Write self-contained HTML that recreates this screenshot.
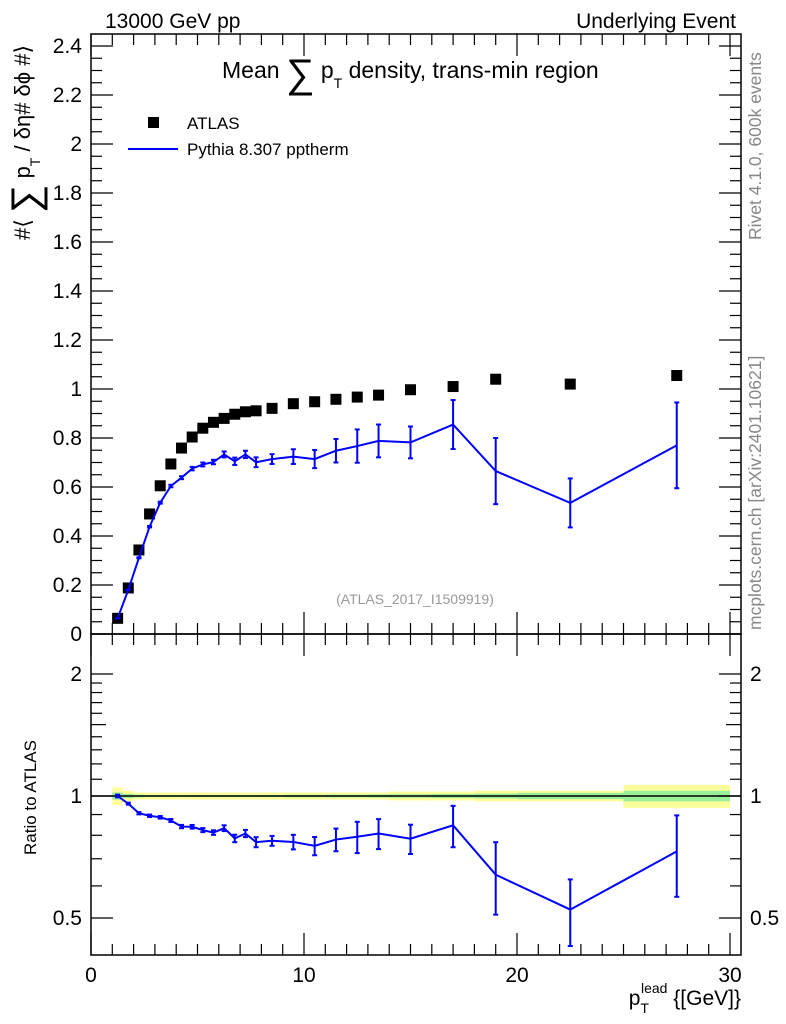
<!DOCTYPE html>
<html><head><meta charset="utf-8"><style>
body{margin:0;background:#fff;}
svg{display:block;font-family:"Liberation Sans",sans-serif;}
</style></head><body>
<svg id="c" width="786" height="1024" viewBox="0 0 786 1024">
<g id="bands"></g>
<g id="marks"></g>
<g id="axes"></g>
<rect x="91" y="34" width="650" height="600" fill="none" stroke="#000" stroke-width="1.5"/>
<rect x="91" y="634" width="650" height="321" fill="none" stroke="#000" stroke-width="1.5"/>
<text x="105" y="28" font-size="21">13000 GeV pp</text>
<text x="736" y="28" font-size="21" text-anchor="end">Underlying Event</text>
<text x="222" y="78" font-size="23">Mean <tspan font-size="40" dy="9">∑</tspan><tspan dy="-9"> p</tspan><tspan font-size="14" dy="10">T</tspan><tspan dy="-10"> density, trans-min region</tspan></text>
<text x="415" y="604" font-size="14" fill="#999" text-anchor="middle">(ATLAS_2017_I1509919)</text>
<text transform="translate(761,240) rotate(-90)" font-size="17.5" fill="#888">Rivet 4.1.0,  600k events</text>
<text transform="translate(761,630) rotate(-90)" font-size="17.5" fill="#888">mcplots.cern.ch [arXiv:2401.10621]</text>
<text transform="translate(30,240) rotate(-90)" font-size="22">#⟨ <tspan font-size="40" dy="9">∑</tspan><tspan dy="-9"> p</tspan><tspan font-size="14" dy="10">T</tspan><tspan dy="-10">  / δη# δϕ #⟩</tspan></text>
<text transform="translate(36,855) rotate(-90)" font-size="17">Ratio to ATLAS</text>
<text x="741" y="1005" font-size="21" text-anchor="end">p<tspan font-size="14" dy="8">T</tspan><tspan font-size="14" dx="-8" dy="-20">lead</tspan><tspan dy="12"> {[GeV]}</tspan></text>
<g>
<rect x="148" y="117" width="11" height="11" fill="#000"/>
<text x="187" y="129" font-size="17">ATLAS</text>
<line x1="128" y1="149" x2="178" y2="149" stroke="#00f" stroke-width="2"/>
<text x="187" y="155" font-size="17">Pythia 8.307 pptherm</text>
</g>
</svg>
<script>
const xCenters=[1.25,1.75,2.25,2.75,3.25,3.75,4.25,4.75,5.25,5.75,6.25,6.75,7.25,7.75,8.5,9.5,10.5,11.5,12.5,13.5,15,17,19,22.5,27.5];
const xLow=[1,1.5,2,2.5,3,3.5,4,4.5,5,5.5,6,6.5,7,7.5,8,9,10,11,12,13,14,16,18,20,25];
const xHigh=[1.5,2,2.5,3,3.5,4,4.5,5,5.5,6,6.5,7,7.5,8,9,10,11,12,13,14,16,18,20,25,30];
const atlasVals=[0.064,0.188,0.343,0.49,0.605,0.694,0.759,0.804,0.84,0.864,0.88,0.897,0.907,0.911,0.921,0.94,0.948,0.958,0.967,0.975,0.997,1.01,1.04,1.02,1.055];
const atlasStatRel=[0.02,0.012,0.008,0.006,0.006,0.006,0.006,0.006,0.006,0.006,0.006,0.006,0.006,0.006,0.006,0.007,0.007,0.008,0.008,0.009,0.01,0.012,0.014,0.018,0.03];
const atlasTotRel=[0.05,0.03,0.02,0.02,0.02,0.02,0.02,0.02,0.02,0.02,0.02,0.02,0.02,0.02,0.02,0.02,0.02,0.02,0.02,0.02,0.025,0.025,0.03,0.03,0.065];
const pythiaVals=[0.064,0.18,0.311,0.438,0.536,0.604,0.638,0.675,0.692,0.702,0.733,0.705,0.733,0.701,0.714,0.724,0.714,0.748,0.767,0.788,0.782,0.855,0.665,0.535,0.77];
const pythiaErr=[0.0005,0.001,0.002,0.003,0.004,0.005,0.006,0.007,0.008,0.009,0.012,0.015,0.015,0.02,0.02,0.03,0.037,0.048,0.068,0.067,0.065,0.1,0.135,0.1,0.175];
const mainYTicks=[0,0.2,0.4,0.6,0.8,1,1.2,1.4,1.6,1.8,2,2.2,2.4];
const ratioYTicks=[0.5,1,2];
const xTicks=[0,10,20,30];

const NS="http://www.w3.org/2000/svg";
const X=v=>91+v*21.3;
const Y=v=>634-v*245;
const R=r=>796-(122/Math.LN2)*Math.log(r);
const gB=document.getElementById('bands'),gM=document.getElementById('marks'),gA=document.getElementById('axes');
function mk(tag,at,parent){const e=document.createElementNS(NS,tag);for(const k in at)e.setAttribute(k,at[k]);parent.appendChild(e);return e;}

for(let i=0;i<xCenters.length;i++){
  const t=atlasTotRel[i],s=atlasStatRel[i];
  const b1=mk('rect',{x:X(xLow[i]),y:R(1+t),width:X(xHigh[i])-X(xLow[i]),height:R(1-t)-R(1+t),fill:'#ffff99'},gB);
  
  
  const b2=mk('rect',{x:X(xLow[i]),y:R(1+s),width:X(xHigh[i])-X(xLow[i]),height:R(1-s)-R(1+s),fill:'#99ee99'},gB);
  
  
}
const rl=mk('line',{x1:91,x2:741,y1:R(1),y2:R(1),stroke:'#000','stroke-width':1.5},gB);



atlasVals.forEach((v,i)=>{
  const r=mk('rect',{x:X(xCenters[i])-5.5,y:Y(v)-5.5,width:11,height:11,fill:'#000'},gM);
  
  
});
let p=pythiaVals.map((v,i)=>X(xCenters[i])+','+Y(v)).join(' ');
const pl=mk('polyline',{points:p,fill:'none',stroke:'#00f','stroke-width':2},gM);


let pr=pythiaVals.map((v,i)=>X(xCenters[i])+','+R(v/atlasVals[i])).join(' ');
const prl=mk('polyline',{points:pr,fill:'none',stroke:'#00f','stroke-width':2},gM);


function errbar(x,y1,y2,name){
  const g=mk('g',{stroke:'#00f','stroke-width':2},gM);
  
  
  mk('line',{x1:x,x2:x,y1:y1,y2:y2},g);
  mk('line',{x1:x-2.5,x2:x+2.5,y1:y1,y2:y1},g);
  mk('line',{x1:x-2.5,x2:x+2.5,y1:y2,y2:y2},g);
}
pythiaVals.forEach((v,i)=>{
  const x=X(xCenters[i]),e=pythiaErr[i],a=atlasVals[i];
  errbar(x,Y(v+e),Y(v-e),'pythia-error-bar');
  errbar(x,R((v+e)/a),R((v-e)/a),'pythia-ratio-error-bar');
});

function tk(x1,y1,x2,y2){mk('line',{x1,y1,x2,y2,stroke:'#000','stroke-width':1.2},gA);}
function lab(x,y,t,anchor,name){const e=mk('text',{x,y,'font-size':21,'text-anchor':anchor},gA);e.textContent=t;
  
  }
for(let v=0;v<=2.45;v+=0.05){const y=Y(v);const maj=Math.abs(v/0.2-Math.round(v/0.2))<1e-6;const L=maj?22:11;if(y<34)continue;tk(91,y,91+L,y);tk(741,y,741-L,y);}
mainYTicks.forEach(v=>lab(82,Y(v)+7,String(v),'end','y-tick-label'));
for(let v=0;v<=30;v++){const maj=v%10===0;const L=maj?22:11;const x=X(v);tk(x,634,x,634-L);tk(x,34,x,34+L);tk(x,955,x,955-L);tk(x,634,x,634+L);}
xTicks.forEach(v=>lab(X(v),982,String(v),'middle','x-tick-label'));
const rminor=[0.5,0.6,0.7,0.8,0.9,1,1.1,1.2,1.3,1.4,1.5,1.6,1.7,1.8,1.9,2];
rminor.forEach(v=>{const maj=ratioYTicks.includes(v);const L=maj?22:(v===1.5?15:11);const y=R(v);tk(91,y,91+L,y);tk(741,y,741-L,y);});
ratioYTicks.forEach(v=>{lab(82,R(v)+7,String(v),'end','ratio-y-tick-label');lab(750,R(v)+7,String(v),'start','ratio-y-tick-label-right');});
</script>
</body></html>
